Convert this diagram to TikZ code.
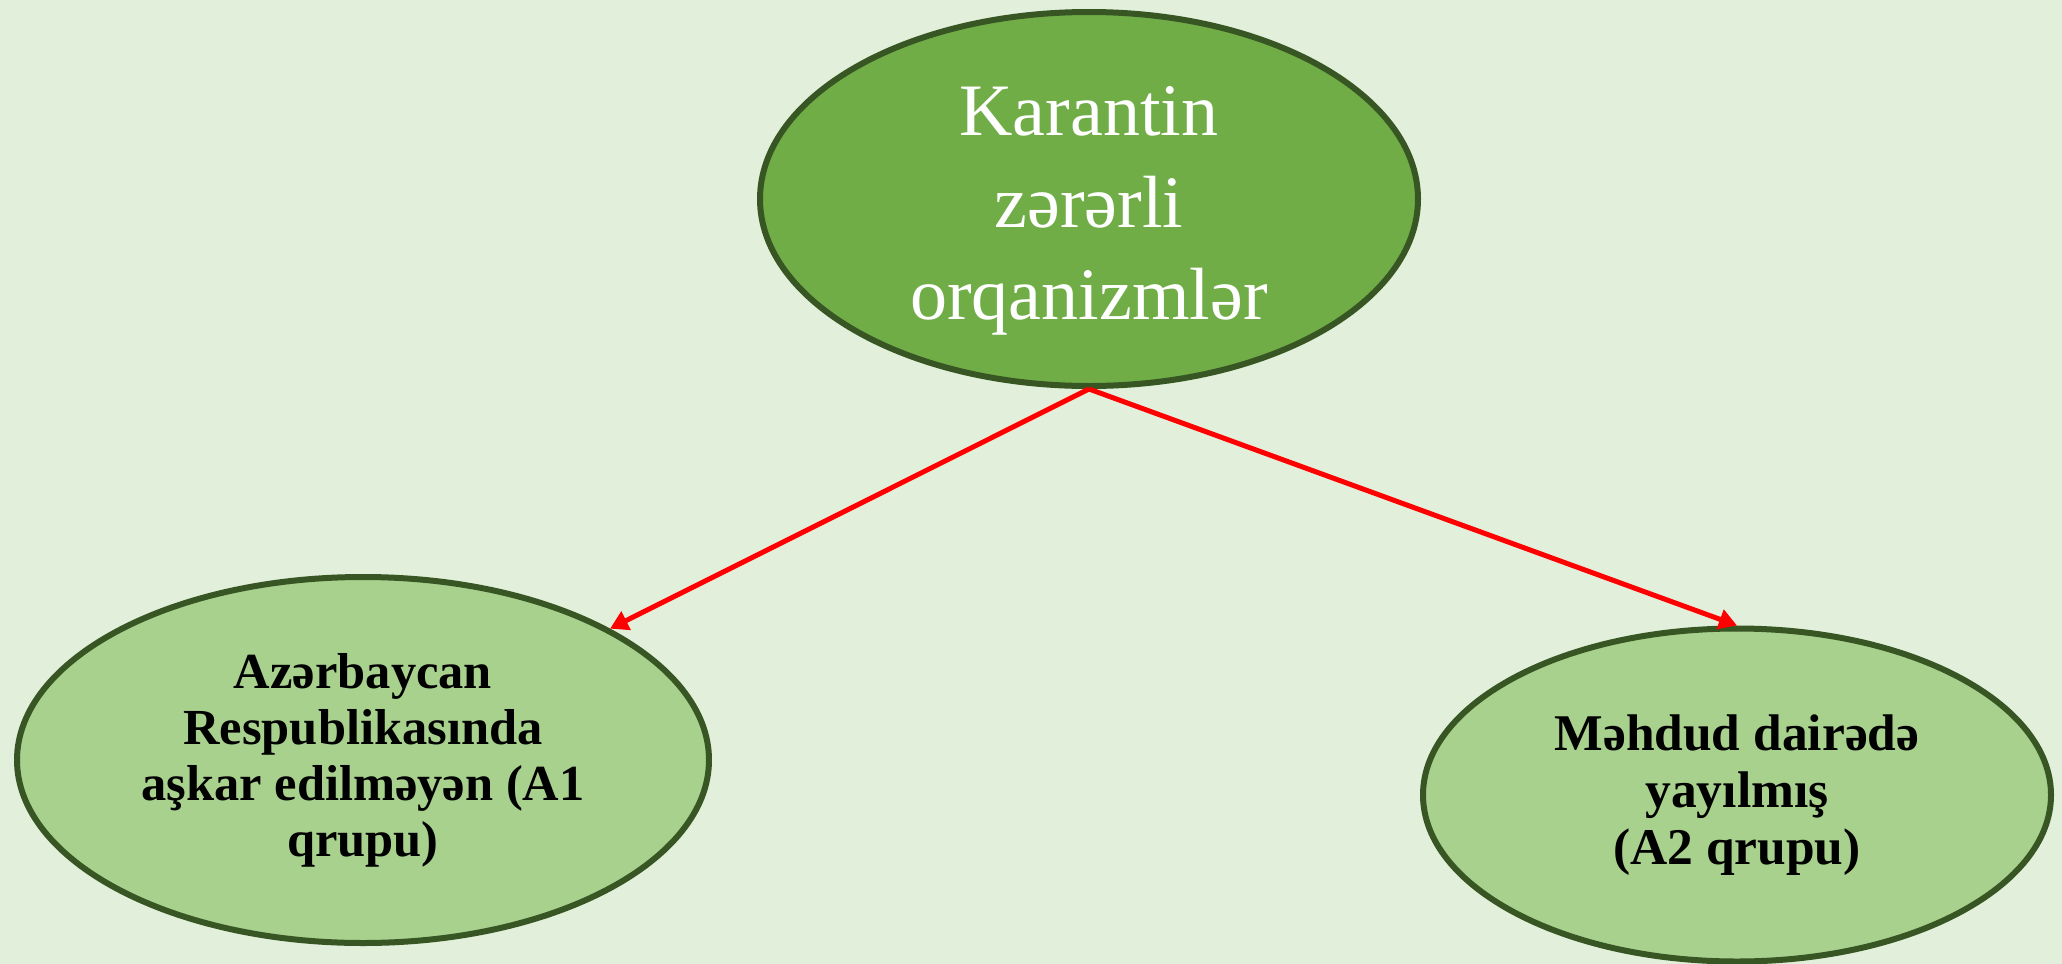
\documentclass[tikz,border=0pt]{standalone}
\usepackage{fontspec}
\setmainfont{Liberation Serif}
\usetikzlibrary{shapes.geometric, arrows.meta}
\definecolor{bgback}{RGB}{226,239,218}
\definecolor{darkrim}{RGB}{55,86,35}
\definecolor{topfill}{RGB}{112,173,71}
\definecolor{lowfill}{RGB}{169,209,142}

\begin{document}
\begin{tikzpicture}[x=1pt,y=-1pt]
            \tikzstyle{oval}=[draw=darkrim, line width=6pt, shape=ellipse, align=center, inner sep=0pt];
            \tikzstyle{link}=[draw=red, line width=5pt, -{Triangle[length=18pt,width=20pt]}];
            \fill[bgback] (0,0) rectangle (2062,964);
            \useasboundingbox (0,0) rectangle (2062,964);
            \node[oval, fill=topfill, minimum width=658pt, minimum height=374pt,
                label={[text=white, align=center, yshift=-12pt,
                    font=\fontsize{74}{92}\selectfont]center:Karantin\\zərərli\\orqanizmlər}] (top) at (1089,199) {};
            \node[oval, fill=lowfill, minimum width=692pt, minimum height=366pt,
                font=\fontsize{50.5}{56}\selectfont\bfseries] (a1) at (363,760)
                {Azərbaycan\\Respublikasında\\aşkar edilməyən (A1\\qrupu)};
            \node[oval, fill=lowfill, minimum width=628pt, minimum height=333pt,
                font=\fontsize{51.5}{57}\selectfont\bfseries] (a2) at (1737,795)
                {Məhdud dairədə\\yayılmış\\(A2 qrupu)};
            \draw[link] (top.south) -- (a1.28);
            \draw[link] (top.south) -- (a2.north);
        \end{tikzpicture}
\end{document}
